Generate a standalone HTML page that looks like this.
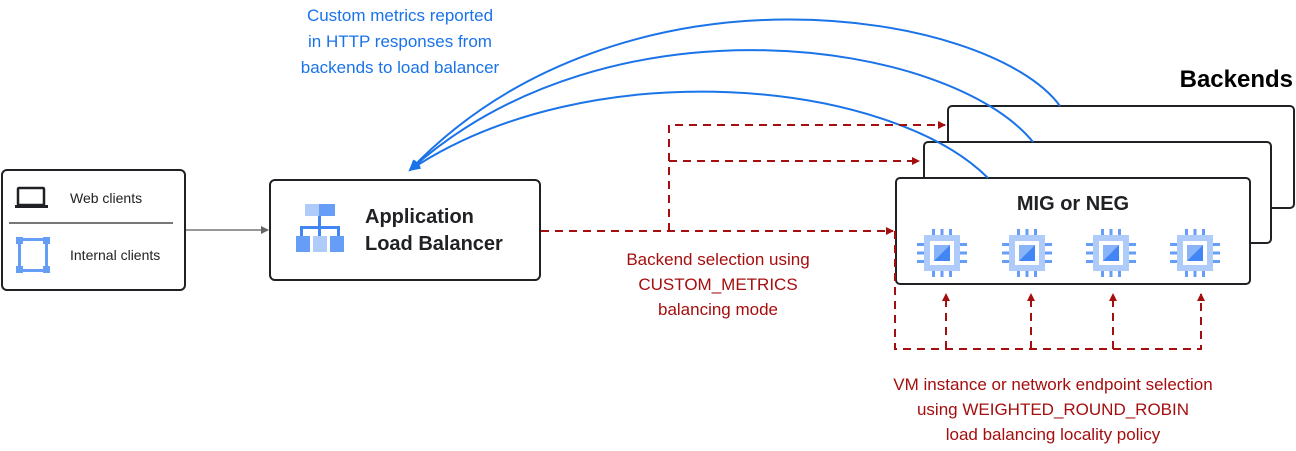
<!DOCTYPE html>
<html><head><style>
body{margin:0;width:1296px;height:446px;background:#fff;overflow:hidden;font-family:"Liberation Sans",sans-serif;}
</style></head><body>
<svg width="1296" height="446" viewBox="0 0 1296 446" xmlns="http://www.w3.org/2000/svg" font-family="Liberation Sans, sans-serif">
<defs>
<marker id="r" markerWidth="8" markerHeight="8" refX="7" refY="4" orient="auto" markerUnits="userSpaceOnUse"><path d="M0,0L8,4L0,8z" fill="#a50e0e"/></marker>
<marker id="g" markerWidth="8" markerHeight="8" refX="7" refY="4" orient="auto" markerUnits="userSpaceOnUse"><path d="M0,0L8,4L0,8z" fill="#666"/></marker>
<marker id="b" markerWidth="12" markerHeight="10" refX="10" refY="5" orient="auto" markerUnits="userSpaceOnUse"><path d="M0,0L12,5L0,10z" fill="#1a73e8"/></marker>
<g id="chip">
<rect x="-18" y="-18" width="36" height="36" fill="#aecbfa"/>
<rect x="-12" y="-12" width="24" height="24" fill="#fff"/>
<rect x="-8" y="-8" width="16" height="16" fill="#8ab4f8"/>
<path d="M8,-8L8,8L-8,8z" fill="#4285f4"/>
<g fill="#669df6"><rect x="-10" y="-24" width="3" height="6"/><rect x="-1.5" y="-24" width="3" height="6"/><rect x="7" y="-24" width="3" height="6"/>
<rect x="-10" y="18" width="3" height="6"/><rect x="-1.5" y="18" width="3" height="6"/><rect x="7" y="18" width="3" height="6"/>
<rect x="-25" y="-10" width="7" height="3"/><rect x="-25" y="-1.5" width="7" height="3"/><rect x="-25" y="7" width="7" height="3"/>
<rect x="18" y="-10" width="7" height="3"/><rect x="18" y="-1.5" width="7" height="3"/><rect x="18" y="7" width="7" height="3"/></g>
</g>
</defs>
<!-- clients box -->
<rect x="2" y="170" width="183" height="120" rx="5" fill="#fff" stroke="#202124" stroke-width="2"/>
<rect x="18" y="188" width="26" height="17" rx="1" fill="none" stroke="#202124" stroke-width="2.5"/>
<rect x="15" y="205" width="33" height="3" fill="#202124"/>
<text x="70" y="203" font-size="14" fill="#202124">Web clients</text>
<line x1="9" y1="223" x2="173" y2="223" stroke="#777" stroke-width="2"/>
<g fill="#669df6"><rect x="18" y="241" width="3" height="28"/><rect x="45" y="241" width="3" height="28"/><rect x="21" y="238" width="24" height="3"/><rect x="21" y="269" width="24" height="3"/>
<rect x="16" y="237" width="7" height="7"/><rect x="43" y="237" width="7" height="7"/><rect x="16" y="266" width="7" height="7"/><rect x="43" y="266" width="7" height="7"/></g>
<text x="70" y="260" font-size="14" fill="#202124">Internal clients</text>
<line x1="186" y1="230" x2="268" y2="230" stroke="#777" stroke-width="1.5" marker-end="url(#g)"/>
<!-- LB -->
<rect x="270" y="180" width="270" height="100" rx="5" fill="#fff" stroke="#202124" stroke-width="2"/>
<g>
<rect x="305" y="204" width="14" height="12" fill="#aecbfa"/><rect x="319" y="204" width="16" height="12" fill="#669df6"/>
<rect x="318" y="216" width="3" height="10" fill="#4285f4"/>
<rect x="300" y="226" width="40" height="3" fill="#4285f4"/>
<rect x="300" y="229" width="3" height="7" fill="#4285f4"/><rect x="318" y="229" width="3" height="7" fill="#4285f4"/><rect x="337" y="229" width="3" height="7" fill="#4285f4"/>
<rect x="296" y="236" width="14" height="16" fill="#669df6"/><rect x="313" y="236" width="14" height="16" fill="#aecbfa"/><rect x="330" y="236" width="14" height="16" fill="#669df6"/>
</g>
<text x="365" y="223" font-size="20" font-weight="bold" fill="#202124">Application</text>
<text x="365" y="250" font-size="20" font-weight="bold" fill="#202124">Load Balancer</text>
<!-- backends -->
<text x="1293" y="87" font-size="24" font-weight="bold" fill="#000" text-anchor="end">Backends</text>
<rect x="948" y="106" width="346" height="102" rx="4" fill="#fff" stroke="#202124" stroke-width="2"/>
<rect x="924" y="142" width="347" height="101" rx="4" fill="#fff" stroke="#202124" stroke-width="2"/>
<rect x="896" y="178" width="354" height="106" rx="4" fill="#fff" stroke="#202124" stroke-width="2"/>
<text x="1073" y="210" font-size="20" font-weight="bold" fill="#202124" text-anchor="middle">MIG or NEG</text>
<use href="#chip" x="942" y="253"/><use href="#chip" x="1027" y="253"/><use href="#chip" x="1111" y="253"/><use href="#chip" x="1195" y="253"/>
<!-- blue curves -->
<g fill="none" stroke="#1a73e8" stroke-width="2">
<path d="M1060,106 C990,10 620,-50 410,170" marker-end="url(#b)"/>
<path d="M1033,142 C950,40 610,-10 410,170" marker-end="url(#b)"/>
<path d="M988,178 C890,80 590,50 410,170" marker-end="url(#b)"/>
</g>
<!-- red dashed -->
<g fill="none" stroke="#a50e0e" stroke-width="2" stroke-dasharray="8,6">
<path d="M541,231 H893" marker-end="url(#r)"/>
<path d="M669,231 V125 H945" marker-end="url(#r)"/>
<path d="M669,161 H919" marker-end="url(#r)"/>
<path d="M895,231 V349 H1201 V294" marker-end="url(#r)"/>
<path d="M946,349 V294" marker-end="url(#r)"/>
<path d="M1031,349 V294" marker-end="url(#r)"/>
<path d="M1113,349 V294" marker-end="url(#r)"/>
</g>
<g font-size="17" fill="#1a73e8" text-anchor="middle">
<text x="400" y="21">Custom metrics reported</text>
<text x="400" y="47">in HTTP responses from</text>
<text x="400" y="73">backends to load balancer</text>
</g>
<g font-size="17" fill="#a50e0e" text-anchor="middle">
<text x="718" y="265">Backend selection using</text>
<text x="718" y="290">CUSTOM_METRICS</text>
<text x="718" y="315">balancing mode</text>
<text x="1053" y="390">VM instance or network endpoint selection</text>
<text x="1053" y="415">using WEIGHTED_ROUND_ROBIN</text>
<text x="1053" y="440">load balancing locality policy</text>
</g>
</svg>
</body></html>
